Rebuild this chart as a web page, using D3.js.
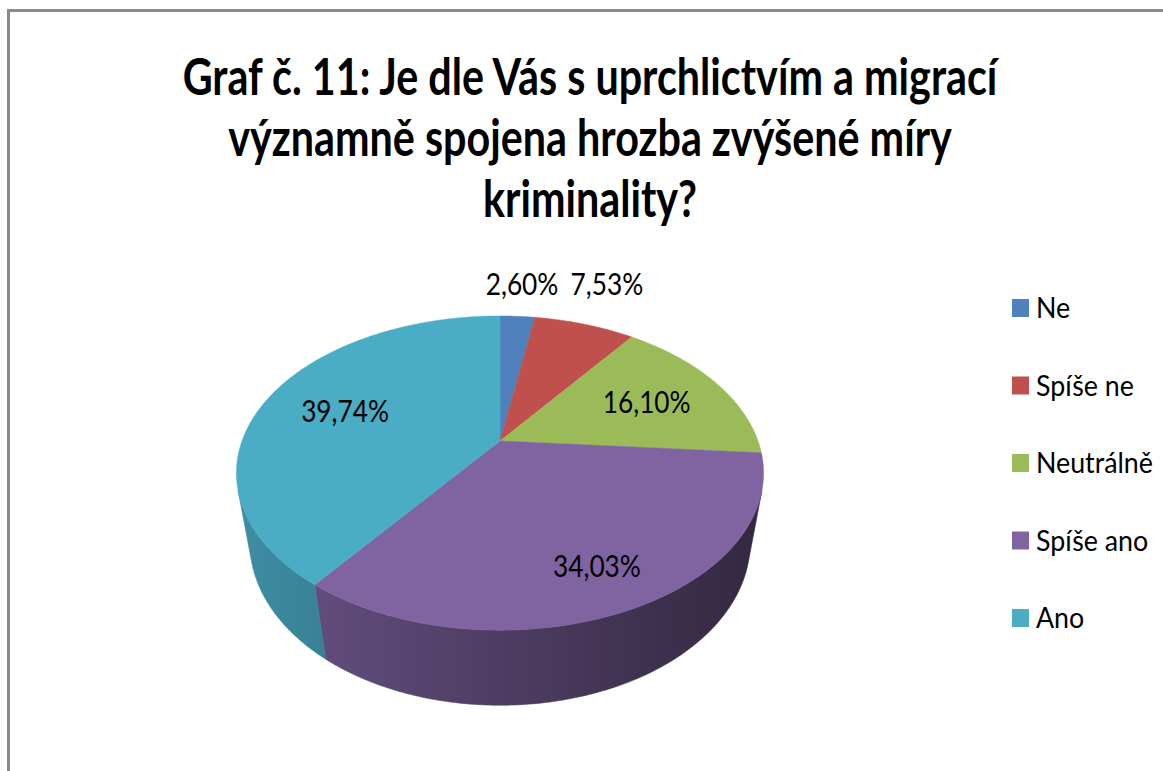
<!DOCTYPE html>
<html>
<head>
<meta charset="utf-8">
<script src="https://cdn.jsdelivr.net/npm/d3@7"></script>
<style>
  html, body { margin: 0; padding: 0; background: #fff; }
  svg { display: block; }
  text { font-family: Lato, "Open Sans", sans-serif; fill: #000; }
</style>
</head>
<body>
<svg id="chart" width="1163" height="771"></svg>
<script>
// data
const categories = ["Ne", "Spíše ne", "Neutrálně", "Spíše ano", "Ano"];
const values = [2.60, 7.53, 16.10, 34.03, 39.74];
const colors = ["#4F81BD", "#C0504D", "#9BBB59", "#8064A2", "#4BACC6"];
const titleLines = [
    "Graf č. 11: Je dle Vás s uprchlictvím a migrací",
    "významně spojena hrozba zvýšené míry",
    "kriminality?"
];

const width = 1163, height = 771;
const svg = d3.select("#chart");
const defs = svg.append("defs");

// frame (only top and left edge are visible)
svg.append("path")
    .attr("d", `M8.5,${height} L8.5,10.5 L${width},10.5`)
    .attr("fill", "none")
    .attr("stroke", "#8a8a8a")
    .attr("stroke-width", 3);

// title
const titleY = d3.scalePoint().domain(d3.range(titleLines.length)).range([95, 217]);
const titleText = svg.append("g").attr("class", "title")
    .selectAll("text")
    .data(titleLines)
    .enter()
    .append("text")
    .attr("text-anchor", "middle")
    .style("font-weight", "700")
    .style("font-size", "50px")
    .text(d => d);
// squeeze to the condensed look of the original
const titleSx = 815 / titleText.nodes()[0].getComputedTextLength();
titleText.attr("transform", (d, i) => `translate(590,${titleY(i)}) scale(${titleSx},1.02)`);

// 3D pie projection
const tilt = 35.7 * Math.PI / 180;
const sinT = Math.sin(tilt), cosT = Math.cos(tilt);
const camDist = 3.98;    // camera distance in pie radii
const depth = 0.35;      // pie thickness in pie radii
const xScale = d3.scaleLinear().domain([-1, 1]).range([500 - 258, 500 + 258]);
const yScale = d3.scaleLinear().domain([-1, 1]).range([441 - 258, 441 + 258]);

function project(a, r, z) {
    const u = r * Math.sin(a), v = -r * Math.cos(a);
    const ys = v * sinT - z * cosT;
    const zc = v * cosT + z * sinT;
    const s = camDist / (camDist - zc);
    return [xScale(u * s), yScale(ys * s)];
}

const arcs = d3.pie().sort(null).value(d => d)(values);
const pieG = svg.append("g").attr("class", "pie");
const line = d3.line();
const step = Math.PI / 360;

function arcPoints(a0, a1, r, z) {
    const n = Math.max(2, Math.ceil((a1 - a0) / step));
    return d3.range(n + 1).map(j => project(a0 + (a1 - a0) * j / n, r, z));
}

// side shading: lit from the left, darker to the right
colors.forEach((c, i) => {
    const base = d3.rgb(c);
    const g = defs.append("linearGradient")
        .attr("id", `side${i}`)
        .attr("gradientUnits", "userSpaceOnUse")
        .attr("x1", xScale(-1)).attr("x2", xScale(1))
        .attr("y1", 0).attr("y2", 0);
    [0, 1].forEach(t => {
        const f = 0.82 - 0.42 * t;
        g.append("stop")
            .attr("offset", t)
            .attr("stop-color", d3.rgb(base.r * f, base.g * f, base.b * f).formatHex());
    });
});

// visible outer wall: the part facing the camera
const visFrom = Math.acos(-1 / (camDist * cosT));
const visTo = 2 * Math.PI - visFrom;

pieG.append("g").attr("class", "walls")
    .selectAll("path")
    .data(arcs.map((d, i) => ({ i, a0: Math.max(d.startAngle, visFrom), a1: Math.min(d.endAngle, visTo) }))
        .filter(d => d.a1 > d.a0))
    .enter()
    .append("path")
    .attr("d", d => line(arcPoints(d.a0, d.a1, 1, 0).concat(arcPoints(d.a0, d.a1, 1, -depth).reverse())) + "Z")
    .attr("fill", d => `url(#side${d.i})`)
    .attr("stroke", d => `url(#side${d.i})`)
    .attr("stroke-width", 0.6);

// top faces
pieG.append("g").attr("class", "tops")
    .selectAll("path")
    .data(arcs)
    .enter()
    .append("path")
    .attr("d", d => line([project(0, 0, 0)].concat(arcPoints(d.startAngle, d.endAngle, 1, 0))) + "Z")
    .attr("fill", (d, i) => colors[i])
    .attr("stroke", (d, i) => colors[i])
    .attr("stroke-width", 0.5);

// data labels: small slices outside (on one row), the rest inside
const fmt = v => d3.format(".2f")(v).replace(".", ",") + "%";
const labelPos = arcs.map(d => {
    const mid = (d.startAngle + d.endAngle) / 2;
    const outside = d.value < 10;
    const r = outside ? 1.33 : (d.value > 30 && Math.cos(mid) < 0 ? 0.78 : 0.66);
    return { outside, p: project(mid, r, 0) };
});
const outsideY = d3.min(labelPos.filter(d => d.outside), d => d.p[1]);
labelPos.forEach(d => { if (d.outside) d.p[1] = outsideY; });

const labelText = pieG.append("g").attr("class", "labels")
    .selectAll("text")
    .data(arcs)
    .enter()
    .append("text")
    .attr("text-anchor", "middle")
    .attr("dy", "0.36em")
    .style("font-size", "31px")
    .text(d => fmt(d.value));
const labelSx = 88 / labelText.nodes()[4].getComputedTextLength();
labelText.attr("transform", (d, i) => `translate(${labelPos[i].p[0]},${labelPos[i].p[1]}) scale(${labelSx},1)`);

// legend
const legendY = d3.scalePoint().domain(categories).range([308, 618]);
const legend = svg.append("g").attr("class", "legend")
    .selectAll("g")
    .data(categories)
    .enter()
    .append("g")
    .attr("transform", d => `translate(1012,${legendY(d)})`);

legend.append("rect")
    .attr("x", 0)
    .attr("y", -9)
    .attr("width", 17)
    .attr("height", 18)
    .attr("fill", (d, i) => colors[i]);

const legendText = legend.append("text")
    .attr("dy", "0.36em")
    .style("font-size", "28px")
    .text(d => d);
const legendSx = 117 / legendText.nodes()[2].getComputedTextLength();
legendText.attr("transform", `translate(24,0) scale(${legendSx},1)`);
</script>
</body>
</html>
